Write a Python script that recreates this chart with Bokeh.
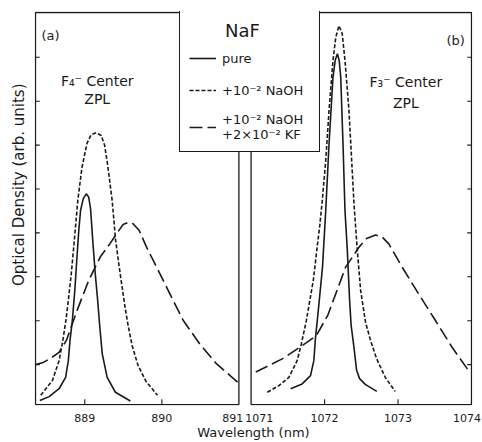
from bokeh.plotting import figure
from bokeh.models import Range1d, FixedTicker, Legend, LegendItem, Label, Title
from bokeh.embed import file_html
from bokeh.resources import INLINE

# ---------------- data ----------------
# (a) F4- centre ZPL, wavelength in nm
a_pure_x = [888.416, 888.537, 888.666, 888.751, 888.786, 888.808, 888.838, 888.870, 888.900, 888.922,
            888.945, 888.980, 889.019, 889.051, 889.074, 889.103, 889.135, 889.167, 889.193, 889.226,
            889.290, 889.397, 889.591]
a_pure_y = [0.18, 0.27, 0.45, 0.71, 1.09, 1.55, 2.00, 2.69, 3.49, 4.06,
            4.51, 4.78, 4.89, 4.81, 4.56, 3.83, 3.08, 2.46, 1.89, 1.25,
            0.71, 0.37, 0.17]

a_naoh_x = [888.428, 888.580, 888.666, 888.715, 888.754, 888.786, 888.825, 888.864, 888.909, 888.963,
            889.028, 889.084, 889.148, 889.213, 889.258, 889.297, 889.355, 889.400, 889.458, 889.523,
            889.562, 889.613, 889.691, 889.794, 889.943]
a_naoh_y = [0.30, 0.64, 1.09, 1.55, 2.00, 2.46, 3.08, 3.83, 4.74, 5.49,
            6.04, 6.24, 6.28, 6.22, 5.99, 5.54, 4.74, 3.83, 3.08, 2.30,
            1.89, 1.44, 0.98, 0.62, 0.30]

a_kf_x = [888.364, 888.450, 888.554, 888.666, 888.761, 888.899, 889.051, 889.200, 889.329, 889.432,
          889.497, 889.562, 889.626, 889.704, 889.803, 889.932, 890.104, 890.276, 890.492, 890.708,
          890.989]
a_kf_y = [1.00, 1.04, 1.14, 1.28, 1.55, 2.23, 2.92, 3.45, 3.76, 4.03,
          4.19, 4.24, 4.21, 4.06, 3.67, 3.22, 2.61, 2.01, 1.47, 1.02,
          0.59]

# (b) F3- centre ZPL
b_pure_x = [1071.538, 1071.695, 1071.809, 1071.854, 1071.877, 1071.901, 1071.928, 1071.972, 1072.016, 1072.061,
            1072.115, 1072.145, 1072.175, 1072.199, 1072.220, 1072.251, 1072.278, 1072.310, 1072.341, 1072.362,
            1072.402, 1072.436, 1072.477, 1072.554, 1072.711]
b_pure_y = [0.45, 0.56, 0.75, 1.09, 1.62, 2.00, 2.46, 3.22, 4.51, 6.03,
            7.55, 7.93, 8.08, 7.93, 7.55, 6.03, 4.51, 3.60, 2.46, 1.89,
            1.37, 0.87, 0.68, 0.55, 0.39]

b_naoh_x = [1071.221, 1071.379, 1071.515, 1071.627, 1071.684, 1071.752, 1071.799, 1071.847, 1071.894, 1071.935,
            1071.969, 1072.016, 1072.061, 1072.115, 1072.152, 1072.196, 1072.240, 1072.278, 1072.332, 1072.369,
            1072.402, 1072.446, 1072.491, 1072.558, 1072.626, 1072.707, 1072.829, 1072.961]
b_naoh_y = [0.37, 0.52, 0.71, 1.09, 1.47, 2.00, 2.46, 2.92, 3.60, 4.17,
            4.74, 5.65, 6.79, 7.93, 8.45, 8.72, 8.54, 7.93, 6.79, 5.65,
            4.62, 3.60, 2.69, 1.96, 1.55, 1.14, 0.70, 0.39]

b_kf_x = [1071.064, 1071.244, 1071.424, 1071.650, 1071.888, 1072.043, 1072.287, 1072.467, 1072.572, 1072.694,
          1072.789, 1072.874, 1073.056, 1073.280, 1073.507, 1073.733, 1073.974]
b_kf_y = [0.83, 0.98, 1.13, 1.38, 1.66, 2.12, 3.22, 3.67, 3.87, 3.95,
          3.90, 3.75, 3.22, 2.61, 2.01, 1.40, 0.83]

legend_title = "NaF"
series_labels = ["pure", "+10\u207b\u00b2 NaOH", "+10\u207b\u00b2 NaOH\n+2\u00d710\u207b\u00b2 KF"]
a_ticks = [889, 890]
b_ticks = [1072, 1073]
a_tick_labels = ["889", "890", "891"]
b_tick_labels = ["1071", "1072", "1073", "1074"]
y_ticks = [1, 2, 3, 4, 5, 6, 7, 8]

# panel limits
A_LEFT, A_RIGHT = 888.36, 891.0
B_LEFT, B_RIGHT = 1071.0, 1074.0
Y_BOT, Y_TOP = 0.09, 9.02

# where each tick label sits (edge labels nudged so they do not collide)
a_label_pos = [889, 890, 890.919]
b_label_pos = [1071.11, 1072, 1073, 1073.94]

FONT = "DejaVu Sans"
INK = "#1a1a1a"
LW = 1.6
DASH_SHORT = "4 2"
DASH_LONG = "13 5"
TICK_DX_A = 0.055   # inward tick length, left panel (nm)
TICK_DX_B = 0.058   # inward tick length, right panel (nm)
TICK_DY = 0.12      # inward tick length on wavelength axis

# ---------------- figure ----------------
xa = Range1d(888.347, 894.032)
xb = Range1d(1068.052, 1074.0136)

p = figure(width=482, height=442, x_range=xa, y_range=Range1d(0.068, 9.043),
           output_backend="svg", toolbar_location=None, y_axis_location=None,
           min_border_left=32, min_border_right=10, min_border_top=11, min_border_bottom=37)
p.extra_x_ranges = {"b": xb}
p.outline_line_color = None
p.grid.visible = False
p.background_fill_color = "white"
p.border_fill_color = "white"

# panel frames
p.quad(left=[A_LEFT], right=[A_RIGHT], bottom=[Y_BOT], top=[Y_TOP],
       fill_alpha=0, line_color=INK, line_width=1.3)
p.quad(left=[B_LEFT], right=[B_RIGHT], bottom=[Y_BOT], top=[Y_TOP],
       fill_alpha=0, line_color=INK, line_width=1.3, x_range_name="b")

# inward tick marks
p.segment(x0=[A_LEFT] * len(y_ticks), x1=[A_LEFT + TICK_DX_A] * len(y_ticks), y0=y_ticks, y1=y_ticks,
          line_color=INK, line_width=1.1)
p.segment(x0=[B_RIGHT - TICK_DX_B] * len(y_ticks), x1=[B_RIGHT] * len(y_ticks), y0=y_ticks, y1=y_ticks,
          line_color=INK, line_width=1.1, x_range_name="b")
p.segment(x0=a_ticks, x1=a_ticks, y0=[Y_BOT] * len(a_ticks), y1=[Y_BOT + TICK_DY] * len(a_ticks),
          line_color=INK, line_width=1.1)
p.segment(x0=b_ticks, x1=b_ticks, y0=[Y_BOT] * len(b_ticks), y1=[Y_BOT + TICK_DY] * len(b_ticks),
          line_color=INK, line_width=1.1, x_range_name="b")

# curves
r1 = p.line(a_pure_x, a_pure_y, line_color=INK, line_width=LW)
r2 = p.line(a_naoh_x, a_naoh_y, line_color=INK, line_width=LW, line_dash=DASH_SHORT)
r3 = p.line(a_kf_x, a_kf_y, line_color=INK, line_width=LW, line_dash=DASH_LONG)
p.line(b_pure_x, b_pure_y, line_color=INK, line_width=LW, x_range_name="b")
p.line(b_naoh_x, b_naoh_y, line_color=INK, line_width=LW, line_dash=DASH_SHORT, x_range_name="b")
p.line(b_kf_x, b_kf_y, line_color=INK, line_width=LW, line_dash=DASH_LONG, x_range_name="b")

# ---------------- wavelength axis (labels only) ----------------
def to_a(v):
    return round(xa.start + (v - xb.start) * (xa.end - xa.start) / (xb.end - xb.start), 6)

label_pos = [float(v) for v in a_label_pos] + [to_a(v) for v in b_label_pos]
label_txt = a_tick_labels + b_tick_labels
xax = p.xaxis[0]
xax.ticker = FixedTicker(ticks=label_pos)
xax.major_label_overrides = {pos: txt for pos, txt in zip(label_pos, label_txt)}
xax.axis_line_color = None
xax.major_tick_in = 0
xax.major_tick_out = 0
xax.minor_tick_line_color = None
xax.major_tick_line_color = None
xax.major_label_text_font = FONT
xax.major_label_text_font_size = "11px"
xax.major_label_text_color = INK
xax.major_label_standoff = 8
xax.axis_label = "Wavelength (nm)"
xax.axis_label_text_font = FONT
xax.axis_label_text_font_size = "13px"
xax.axis_label_text_font_style = "normal"
xax.axis_label_text_color = INK
xax.axis_label_standoff = 0

# y axis title
p.add_layout(Title(text="Optical Density (arb. units)", align="right", offset=72,
                   vertical_align="bottom", standoff=14,
                   text_font=FONT, text_font_size="15px", text_font_style="normal",
                   text_color=INK), "left")

# panel annotations
p.add_layout(Label(x=888.554, y=8.50, text="(a)", text_align="center", text_baseline="middle",
                   text_font=FONT, text_font_size="13px", text_color=INK))
p.add_layout(Label(x=1073.784, y=8.38, text="(b)", text_align="center", text_baseline="middle",
                   text_font=FONT, text_font_size="13px", text_color=INK, x_range_name="b"))
p.add_layout(Label(x=889.161, y=7.46, text="F\u2084\u207b Center", text_align="center", text_baseline="middle",
                   text_font=FONT, text_font_size="14px", text_color=INK))
p.add_layout(Label(x=889.161, y=7.06, text="ZPL", text_align="center", text_baseline="middle",
                   text_font=FONT, text_font_size="14px", text_color=INK))
p.add_layout(Label(x=1073.106, y=7.44, text="F\u2083\u207b Center", text_align="center", text_baseline="middle",
                   text_font=FONT, text_font_size="14px", text_color=INK, x_range_name="b"))
p.add_layout(Label(x=1073.106, y=6.97, text="ZPL", text_align="center", text_baseline="middle",
                   text_font=FONT, text_font_size="14px", text_color=INK, x_range_name="b"))

# ---------------- legend ----------------
legend = Legend(items=[LegendItem(label=series_labels[0], renderers=[r1]),
                       LegendItem(label=series_labels[1], renderers=[r2]),
                       LegendItem(label=series_labels[2], renderers=[r3])],
                location=(145, 253), title="\u2003\u2003" + legend_title,
                padding=9, spacing=12, margin=0, label_standoff=6,
                glyph_width=27, glyph_height=20, label_width=88, label_height=20,
                title_standoff=7, title_text_font_size="18px", title_text_font=FONT,
                title_text_font_style="normal", title_text_color=INK,
                label_text_font=FONT, label_text_font_size="13px", label_text_color=INK,
                border_line_color=INK, border_line_width=1.3, border_line_alpha=1.0,
                background_fill_color="white", background_fill_alpha=1.0)
p.add_layout(legend)

open("out.html", "w").write(file_html(p, INLINE))
